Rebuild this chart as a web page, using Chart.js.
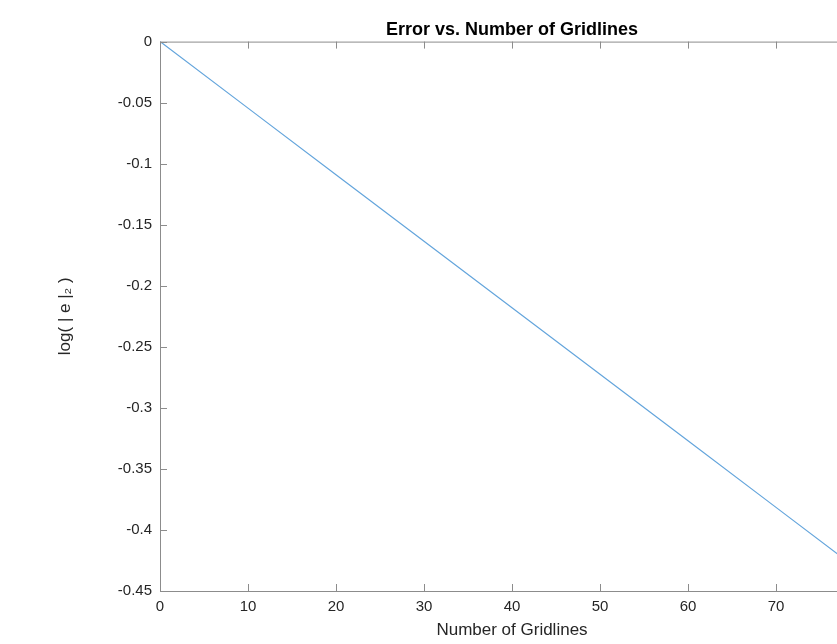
<!DOCTYPE html>
<html>
<head>
<meta charset="utf-8">
<script src="https://cdn.jsdelivr.net/npm/chart.js@4.4.1/dist/chart.umd.min.js"></script>
<style>
html, body { margin: 0; padding: 0; background: #fff; overflow: hidden; }
canvas { display: block; }
</style>
</head>
<body>
<canvas id="chart" width="900" height="644"></canvas>
<script>
"use strict";

// values
var gridlines = [0, 10, 20, 30, 40, 50, 60, 70, 80];
var logError = [0, -0.0545, -0.109, -0.1635, -0.218, -0.2725, -0.327, -0.3815, -0.436];

var xTicks = [0, 10, 20, 30, 40, 50, 60, 70, 80];
var xTickLabels = ["0", "10", "20", "30", "40", "50", "60", "70", "80"];
var yTicks = [-0.45, -0.4, -0.35, -0.3, -0.25, -0.2, -0.15, -0.1, -0.05, 0];
var yTickLabels = ["-0.45", "-0.4", "-0.35", "-0.3", "-0.25", "-0.2", "-0.15", "-0.1", "-0.05", "0"];

var textColor = "#262626";
var axisColor = "#8c8c8c";

var points = gridlines.map(function(n, i) {
    return {x: n, y: logError[i]};
});

// matlab style box with inward ticks on every side
var boxPlugin = {
    id: "matlabBox",
    afterDatasetsDraw: function(chart) {
        var ctx = chart.ctx;
        var a = chart.chartArea;
        var xs = chart.scales.x;
        var ys = chart.scales.y;
        var len = 7;
        ctx.save();
        ctx.strokeStyle = axisColor;
        ctx.lineWidth = 1;
        ctx.strokeRect(a.left + 0.5, a.top + 0.5, a.right - a.left, a.bottom - a.top);
        ctx.beginPath();
        xs.ticks.forEach(function(t) {
            var px = Math.round(xs.getPixelForValue(t.value)) + 0.5;
            ctx.moveTo(px, a.bottom);
            ctx.lineTo(px, a.bottom - len);
            ctx.moveTo(px, a.top);
            ctx.lineTo(px, a.top + len);
        });
        ys.ticks.forEach(function(t) {
            var py = Math.round(ys.getPixelForValue(t.value)) + 0.5;
            ctx.moveTo(a.left, py);
            ctx.lineTo(a.left + len, py);
            ctx.moveTo(a.right, py);
            ctx.lineTo(a.right - len, py);
        });
        ctx.stroke();
        ctx.restore();
    }
};

var createChart = function() {
    var ctx = document.getElementById("chart").getContext("2d");
    var chart = new Chart(ctx, {
        type: "line",
        data: {
            datasets: [{
                label: "error",
                data: points,
                borderColor: "#64a5dc",
                backgroundColor: "transparent",
                borderWidth: 1.2,
                pointRadius: 0,
                tension: 0
            }]
        },
        options: {
            responsive: false,
            animation: false,
            devicePixelRatio: 1,
            layout: {padding: {left: 0, right: 36, top: 0, bottom: 0}},
            plugins: {
                legend: {display: false},
                tooltip: {enabled: false},
                title: {
                    display: true,
                    text: "Error vs. Number of Gridlines",
                    color: "#000",
                    fullSize: false,
                    font: {family: "'Liberation Sans', Arial, sans-serif", size: 18, weight: "bold"},
                    padding: {top: 19, bottom: 1}
                }
            },
            scales: {
                x: {
                    type: "linear",
                    min: 0,
                    max: 80,
                    afterBuildTicks: function(scale) {
                        scale.ticks = xTicks.map(function(v) { return {value: v}; });
                    },
                    afterFit: function(scale) { scale.height = 53; },
                    grid: {display: false, drawTicks: false},
                    border: {display: false},
                    ticks: {
                        color: textColor,
                        padding: 7,
                        maxRotation: 0,
                        autoSkip: false,
                        font: {family: "'Liberation Sans', Arial, sans-serif", size: 15},
                        callback: function(v) { return xTickLabels[xTicks.indexOf(v)]; }
                    },
                    title: {
                        display: true,
                        text: "Number of Gridlines",
                        color: textColor,
                        font: {family: "'Liberation Sans', Arial, sans-serif", size: 17},
                        padding: {top: 0, bottom: 3}
                    }
                },
                y: {
                    type: "linear",
                    min: -0.45,
                    max: 0,
                    afterBuildTicks: function(scale) {
                        scale.ticks = yTicks.map(function(v) { return {value: v}; });
                    },
                    afterFit: function(scale) { scale.width = 160; },
                    grid: {display: false, drawTicks: false},
                    border: {display: false},
                    ticks: {
                        color: textColor,
                        padding: 8,
                        autoSkip: false,
                        font: {family: "'Liberation Sans', Arial, sans-serif", size: 15},
                        callback: function(v, i) { return yTickLabels[i]; }
                    },
                    title: {
                        display: true,
                        text: "log( | e |\u2082 )",
                        color: textColor,
                        font: {family: "'Liberation Sans', Arial, sans-serif", size: 17},
                        padding: {top: 55, bottom: 0}
                    }
                }
            }
        },
        plugins: [boxPlugin]
    });
    return chart;
};

createChart();
</script>
</body>
</html>
